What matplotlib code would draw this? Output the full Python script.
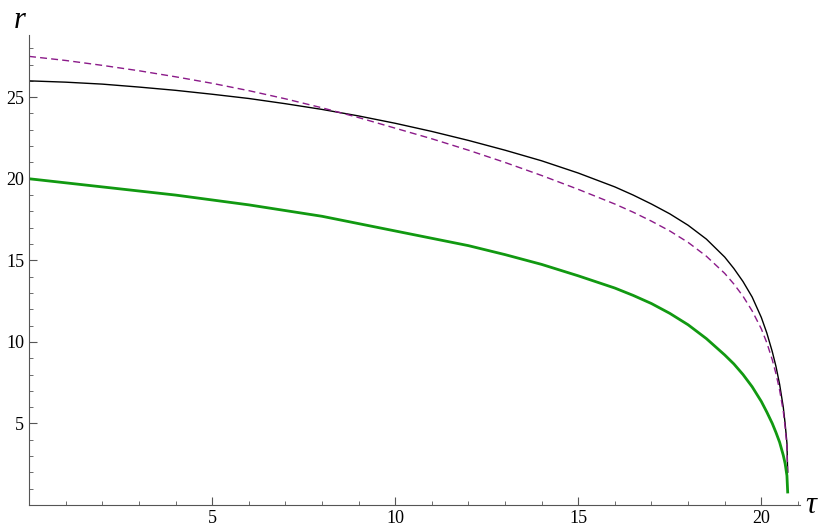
import matplotlib
matplotlib.use("Agg")
import matplotlib.pyplot as plt
from matplotlib.ticker import MultipleLocator

tau = [0, 1, 2, 3, 4, 5, 6, 7, 8, 9, 10, 11, 12, 13, 14, 15, 16, 16.5, 17, 17.5, 18, 18.5, 19, 19.25, 19.5, 19.75, 20, 20.15, 20.3, 20.4, 20.5, 20.6, 20.65, 20.7, 20.72]
r_green = [20.0, 19.75, 19.5, 19.25, 19.0, 18.7, 18.4, 18.05, 17.7, 17.25, 16.8, 16.35, 15.9, 15.35, 14.75, 14.05, 13.3, 12.85, 12.35, 11.75, 11.05, 10.2, 9.2, 8.65, 8.0, 7.25, 6.35, 5.7, 5.0, 4.45, 3.85, 3.05, 2.55, 1.8, 0.8]
r_black = [26.0, 25.92, 25.8, 25.62, 25.42, 25.18, 24.92, 24.6, 24.25, 23.85, 23.4, 22.9, 22.35, 21.75, 21.1, 20.35, 19.5, 19.0, 18.45, 17.85, 17.15, 16.3, 15.2, 14.5, 13.7, 12.75, 11.5, 10.55, 9.4, 8.5, 7.4, 6.0, 5.0, 3.8, 2.0]
r_purple = [27.5, 27.25, 26.95, 26.62, 26.25, 25.85, 25.4, 24.9, 24.35, 23.75, 23.1, 22.45, 21.75, 21.0, 20.2, 19.35, 18.45, 17.95, 17.4, 16.8, 16.1, 15.25, 14.2, 13.55, 12.8, 11.9, 10.8, 9.95, 8.9, 8.05, 7.05, 5.75, 4.8, 3.6, 2.0]

fig = plt.figure(figsize=(8.3, 5.25), dpi=100)
ax = fig.add_axes([0.035, 0.038, 0.929, 0.895])
ax.plot(tau, r_black, color="black", lw=1.0)
ax.plot(tau, r_purple, color="#8B1A89", lw=1.0, dashes=(5, 3))
ax.plot(tau, r_green, color="#119911", lw=2.0)
ax.set_xlim(0, 21.06)
ax.set_ylim(0, 28.8)
for s in ["top", "right"]:
    ax.spines[s].set_visible(False)
for s in ["left", "bottom"]:
    ax.spines[s].set_color("#555555")
ax.xaxis.set_minor_locator(MultipleLocator(1))
ax.yaxis.set_minor_locator(MultipleLocator(1))
ax.set_xticks([5, 10, 15, 20])
ax.set_yticks([5, 10, 15, 20, 25])
ax.tick_params(which="major", direction="in", length=6, color="#555555", labelsize=13)
ax.tick_params(which="minor", direction="in", length=3, color="#555555")
for lab in ax.get_xticklabels() + ax.get_yticklabels():
    lab.set_fontfamily("Liberation Serif")
ax.text(-0.012, 1.0, "r", transform=ax.transAxes, fontsize=22, fontstyle="italic",
        family="Liberation Serif", ha="center", va="bottom")
ax.text(1.007, 0, "τ", transform=ax.transAxes, fontsize=22, fontstyle="italic",
        family="Liberation Serif", ha="left", va="center")
fig.savefig("out.png", dpi=100)
